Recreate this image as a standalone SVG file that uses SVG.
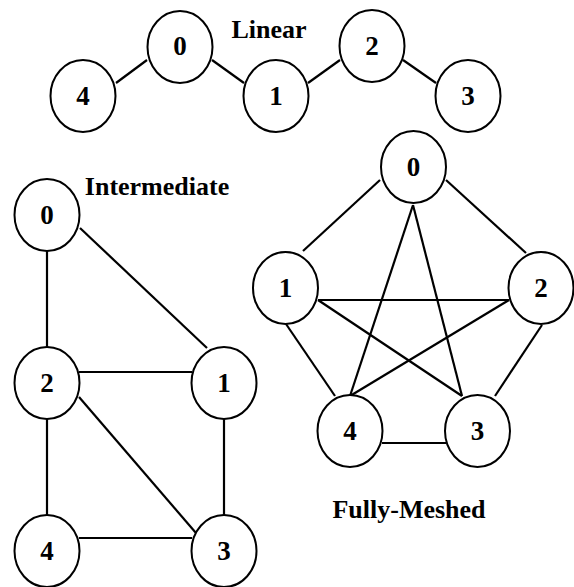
<svg xmlns="http://www.w3.org/2000/svg" width="574" height="587" viewBox="0 0 574 587">
  <style>
    .node ellipse { fill: #fff; stroke: #000; stroke-width: 2; }
    .node text { font-family: "Liberation Serif", "Times New Roman", serif; font-weight: bold; font-size: 27px; text-anchor: middle; fill: #000; }
    .title { font-family: "Liberation Serif", "Times New Roman", serif; font-weight: bold; font-size: 26px; text-anchor: middle; fill: #000; }
    .edges line { stroke: #000; stroke-width: 2.2; }
  </style>
  <rect width="574" height="587" fill="#fff"/>

  <!-- Titles -->
  <text class="title" x="269" y="38">Linear</text>
  <text class="title" x="157" y="195">Intermediate</text>
  <text class="title" x="409" y="518">Fully-Meshed</text>

  <!-- Connectors -->
  <g id="connectors" class="edges">
    <!-- Linear -->
    <line x1="116" y1="83" x2="147" y2="60"/>
    <line x1="212" y1="60" x2="244" y2="83"/>
    <line x1="308" y1="83" x2="340" y2="60"/>
    <line x1="403" y1="60" x2="436" y2="83"/>
    <!-- Intermediate -->
    <line x1="47" y1="251" x2="47" y2="347"/>
    <line x1="80" y1="228" x2="207" y2="348"/>
    <line x1="79" y1="372" x2="192" y2="372"/>
    <line x1="79" y1="397" x2="202" y2="540"/>
    <line x1="47" y1="419" x2="47" y2="515"/>
    <line x1="224" y1="419" x2="224" y2="515"/>
    <line x1="79" y1="538" x2="192" y2="538"/>
    <!-- Fully-Meshed -->
    <line x1="380" y1="180" x2="303" y2="251"/>
    <line x1="446" y1="180" x2="526" y2="253"/>
    <line x1="413" y1="205" x2="350" y2="396"/>
    <line x1="413" y1="205" x2="462" y2="396"/>
    <line x1="318" y1="300" x2="509" y2="300"/>
    <line x1="318" y1="300" x2="462" y2="396"/>
    <line x1="509" y1="300" x2="350" y2="396"/>
    <line x1="286" y1="324" x2="335" y2="396"/>
    <line x1="542" y1="325" x2="495" y2="396"/>
    <line x1="382" y1="443" x2="446" y2="443"/>
  </g>

  <!-- Linear nodes -->
  <g id="lin-4" class="node"><ellipse cx="83" cy="96" rx="32.5" ry="36"/><text x="83" y="105">4</text></g>
  <g id="lin-0" class="node"><ellipse cx="180" cy="47" rx="32.5" ry="36"/><text x="180" y="55">0</text></g>
  <g id="lin-1" class="node"><ellipse cx="276" cy="96" rx="32.5" ry="36"/><text x="276" y="105">1</text></g>
  <g id="lin-2" class="node"><ellipse cx="372" cy="46" rx="32.5" ry="36"/><text x="372" y="55">2</text></g>
  <g id="lin-3" class="node"><ellipse cx="468" cy="96" rx="32.5" ry="36"/><text x="468" y="105">3</text></g>

  <!-- Intermediate nodes -->
  <g id="int-0" class="node"><ellipse cx="47" cy="215" rx="32.5" ry="36"/><text x="47" y="224">0</text></g>
  <g id="int-2" class="node"><ellipse cx="47" cy="383" rx="32.5" ry="36"/><text x="47" y="392">2</text></g>
  <g id="int-1" class="node"><ellipse cx="224" cy="383" rx="32.5" ry="36"/><text x="224" y="392">1</text></g>
  <g id="int-4" class="node"><ellipse cx="47" cy="551" rx="32.5" ry="36"/><text x="47" y="560">4</text></g>
  <g id="int-3" class="node"><ellipse cx="224" cy="551" rx="32.5" ry="36"/><text x="224" y="560">3</text></g>

  <!-- Fully-Meshed nodes -->
  <g id="mesh-0" class="node"><ellipse cx="413.5" cy="167" rx="32.5" ry="36"/><text x="413.5" y="176">0</text></g>
  <g id="mesh-1" class="node"><ellipse cx="285.5" cy="288" rx="32.5" ry="36"/><text x="285.5" y="297">1</text></g>
  <g id="mesh-2" class="node"><ellipse cx="541" cy="288" rx="32.5" ry="36"/><text x="541" y="297">2</text></g>
  <g id="mesh-4" class="node"><ellipse cx="350" cy="431" rx="32.5" ry="36"/><text x="350" y="440">4</text></g>
  <g id="mesh-3" class="node"><ellipse cx="477.5" cy="431" rx="32.5" ry="36"/><text x="477.5" y="440">3</text></g>
</svg>
